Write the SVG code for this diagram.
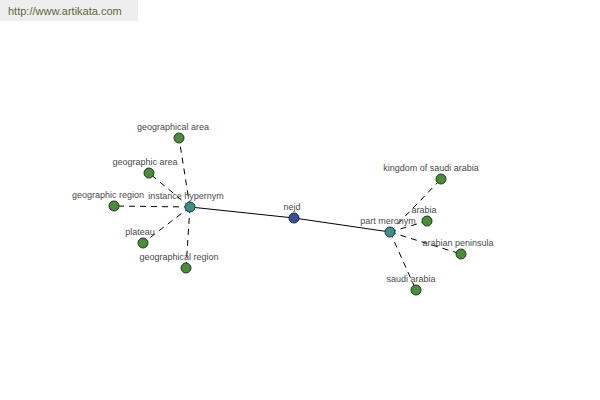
<svg xmlns="http://www.w3.org/2000/svg" width="600" height="400" viewBox="0 0 600 400">
<style>
.lbl{font-family:"Liberation Sans",Arial,sans-serif;font-size:9px;fill:#4a4a4a;text-anchor:middle}
.leaf{fill:#4d8a3e;stroke:#1f3a18;stroke-width:1}
.hub{fill:#3f8c8c;stroke:#1d3d3d;stroke-width:1}
.root{fill:#3a4c9a;stroke:#1a2250;stroke-width:1}
.solid{stroke:#000;stroke-width:1;fill:none}
.dash{stroke:#000;stroke-width:1;fill:none;stroke-dasharray:6,5}
</style>
<rect x="0" y="0" width="138" height="21" fill="#eeeeee"/>
<text x="8" y="15" font-family="'Liberation Sans',Arial,sans-serif" font-size="11" fill="#5a6b3c">http://www.artikata.com</text>
<g id="connectors">
<line class="solid" x1="190" y1="207" x2="294" y2="218"/>
<line class="solid" x1="294" y1="218" x2="390" y2="232"/>
<line class="dash" x1="190" y1="207" x2="179" y2="138"/>
<line class="dash" x1="190" y1="207" x2="149" y2="173"/>
<line class="dash" x1="190" y1="207" x2="114" y2="206"/>
<line class="dash" x1="190" y1="207" x2="143" y2="243"/>
<line class="dash" x1="190" y1="207" x2="186" y2="268"/>
<line class="dash" x1="390" y1="232" x2="441" y2="179"/>
<line class="dash" x1="390" y1="232" x2="427" y2="221"/>
<line class="dash" x1="390" y1="232" x2="461" y2="254"/>
<line class="dash" x1="390" y1="232" x2="416" y2="290"/>
</g>
<g id="n-geographical-area"><circle class="leaf" cx="179" cy="138" r="5"/><text class="lbl" x="173" y="130">geographical area</text></g>
<g id="n-geographic-area"><circle class="leaf" cx="149" cy="173" r="5"/><text class="lbl" x="145" y="165">geographic area</text></g>
<g id="n-geographic-region"><circle class="leaf" cx="114" cy="206" r="5"/><text class="lbl" x="108" y="198">geographic region</text></g>
<g id="n-plateau"><circle class="leaf" cx="143" cy="243" r="5"/><text class="lbl" x="140" y="235">plateau</text></g>
<g id="n-geographical-region"><circle class="leaf" cx="186" cy="268" r="5"/><text class="lbl" x="179" y="260">geographical region</text></g>
<g id="n-instance-hypernym"><circle class="hub" cx="190" cy="207" r="5"/><text class="lbl" x="186" y="199">instance hypernym</text></g>
<g id="n-nejd"><circle class="root" cx="294" cy="218" r="5"/><text class="lbl" x="292" y="210">nejd</text></g>
<g id="n-part-meronym"><circle class="hub" cx="390" cy="232" r="5"/><text class="lbl" x="388" y="224">part meronym</text></g>
<g id="n-kingdom-of-saudi-arabia"><circle class="leaf" cx="441" cy="179" r="5"/><text class="lbl" x="431" y="171">kingdom of saudi arabia</text></g>
<g id="n-arabia"><circle class="leaf" cx="427" cy="221" r="5"/><text class="lbl" x="424" y="213">arabia</text></g>
<g id="n-arabian-peninsula"><circle class="leaf" cx="461" cy="254" r="5"/><text class="lbl" x="458" y="246">arabian peninsula</text></g>
<g id="n-saudi-arabia"><circle class="leaf" cx="416" cy="290" r="5"/><text class="lbl" x="411" y="282">saudi arabia</text></g>
</svg>
